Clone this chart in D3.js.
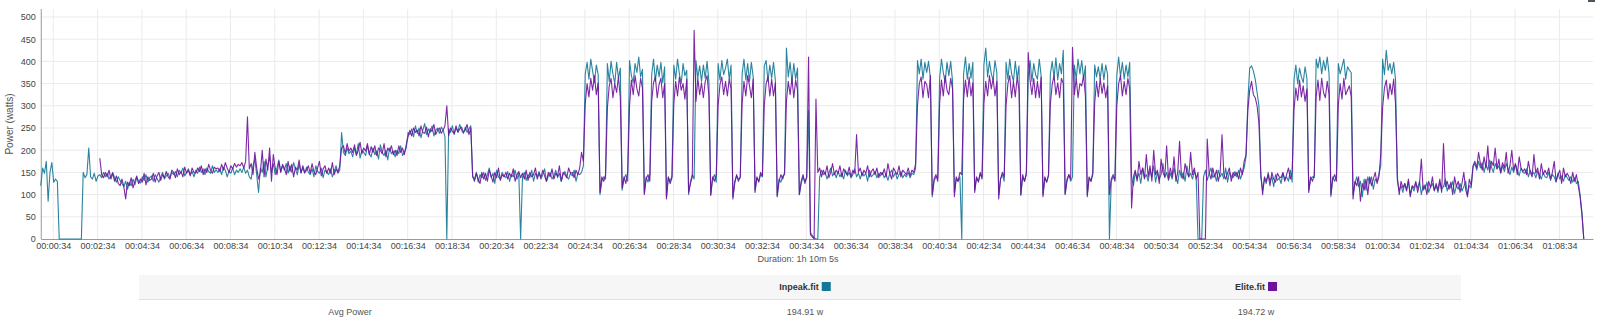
<!DOCTYPE html>
<html>
<head>
<meta charset="utf-8">
<script src="https://cdn.jsdelivr.net/npm/d3@7/dist/d3.min.js"></script>
<style>
  body { margin: 0; background: #fff; }
  svg text { font-family: "Liberation Sans", Arial, sans-serif; }
</style>
</head>
<body>
<div id="chart"></div>
<script>
// samples every 5 seconds, starting at 0s
var step = 5;

var inpeak = [
  120,160,148,175,85,150,172,128,135,130,0,0,
  0,0,0,0,0,0,0,0,0,0,0,150,
  138,145,205,140,135,148,130,142,145,138,150,140,
  148,135,142,150,138,128,140,132,125,118,130,112,
  128,120,135,122,138,130,126,140,132,145,128,138,
  142,130,145,136,128,140,150,135,142,148,138,150,
  145,152,140,155,148,160,142,150,158,145,152,140,
  155,148,162,150,158,145,160,152,148,165,150,156,
  150,158,145,162,155,140,152,148,160,145,155,150,
  158,150,162,148,155,140,135,165,180,145,105,160,
  150,175,140,165,185,150,170,145,160,178,152,165,
  155,170,148,165,150,172,158,145,168,150,160,148,
  162,150,145,158,140,165,152,148,160,138,155,150,
  145,158,140,152,165,148,155,240,195,188,205,192,
  198,185,205,190,215,182,200,195,188,210,192,185,
  205,190,198,180,212,195,188,200,178,205,192,198,
  185,200,192,210,188,195,205,240,235,248,230,255,
  238,250,228,245,260,235,248,240,255,232,245,250,
  238,252,245,230,0,248,240,255,235,250,242,258,
  245,238,252,240,248,255,140,135,150,128,145,138,
  150,132,145,160,138,148,125,155,140,135,150,142,
  138,152,130,145,140,155,135,148,0,140,150,132,
  145,138,155,130,148,140,152,135,145,158,130,142,
  150,135,142,155,138,148,130,145,152,140,135,148,
  142,155,130,148,145,150,165,372,398,360,405,378,
  352,392,370,100,130,140,135,395,355,400,372,350,
  398,362,385,110,135,145,130,402,368,352,395,375,
  410,365,382,105,140,128,145,370,405,355,392,365,
  398,352,388,95,138,130,142,392,360,405,372,350,
  395,368,380,100,130,145,135,402,362,390,355,392,
  362,400,355,100,135,145,128,395,358,402,370,385,
  405,360,392,95,130,142,135,138,372,405,358,395,
  355,398,365,110,138,130,145,140,390,402,355,392,
  362,398,358,98,135,128,142,145,430,365,398,352,
  395,360,385,100,125,140,130,138,290,15,8,3,
  0,0,140,155,145,150,135,148,160,142,150,138,
  152,140,148,135,155,142,150,138,145,158,140,148,
  135,150,142,148,130,155,140,145,152,138,148,142,
  150,138,145,132,148,155,140,150,135,145,152,138,
  145,140,150,138,148,145,160,402,372,405,360,398,
  375,400,362,95,130,140,138,362,405,375,352,398,
  368,400,355,105,135,130,140,0,372,410,360,395,
  362,398,110,138,130,145,140,392,430,365,400,372,
  358,402,375,100,135,145,130,398,360,405,372,355,
  400,362,390,98,140,130,145,365,402,355,395,370,
  360,405,368,100,138,128,142,372,400,362,408,358,
  395,372,425,102,135,145,130,140,392,360,405,372,
  402,360,390,100,138,130,145,392,365,388,360,395,
  358,392,370,0,130,140,135,368,410,365,398,360,
  392,365,398,140,120,150,135,148,125,160,138,145,
  130,155,140,165,128,150,135,145,170,138,150,132,
  148,135,160,142,125,155,138,150,130,165,140,148,
  135,152,140,0,0,0,140,155,132,148,160,138,
  145,130,155,140,148,135,160,128,150,142,138,152,
  140,155,135,148,160,185,310,385,390,378,360,330,
  300,140,110,135,125,150,130,140,118,145,132,138,
  125,148,135,140,130,155,128,358,392,350,385,365,
  352,388,362,110,135,140,138,405,385,410,372,402,
  380,410,372,95,140,130,145,395,372,388,405,360,
  388,380,375,100,125,140,118,130,95,135,110,140,
  125,140,112,135,130,145,165,405,370,425,380,395,
  372,398,360,130,110,120,105,125,112,130,100,118,
  108,125,115,130,100,120,112,128,105,118,125,110,
  120,105,128,112,118,135,108,122,115,130,102,120,
  112,125,108,118,130,100,120,115,162,170,155,175,
  160,172,150,168,155,178,162,150,170,158,165,148,
  165,152,170,158,145,162,150,168,155,142,160,150,
  148,158,140,155,145,150,138,152,145,135,150,140,
  138,150,132,145,140,128,148,135,142,130,145,138,
  132,140,128,138,125,130,100,60,0
];

var elite = [
  null,null,null,null,null,null,null,null,null,null,null,null,
  null,null,null,null,null,null,null,null,null,null,null,null,
  null,null,null,null,null,null,null,null,182,145,138,150,
  140,155,135,148,130,142,125,120,135,118,90,128,
  120,138,115,130,142,125,135,128,148,122,140,132,
  135,148,128,142,150,132,145,138,152,140,135,155,
  150,138,158,145,152,140,162,148,155,142,160,150,
  148,160,152,165,145,158,150,168,155,148,162,158,
  160,152,168,155,172,160,150,165,158,170,162,168,
  165,172,160,175,275,158,170,145,195,160,135,150,
  200,140,180,155,205,130,190,160,145,175,150,168,
  160,145,175,152,168,140,162,155,178,148,165,150,
  155,165,148,170,152,145,160,175,142,158,165,148,
  160,148,172,145,158,150,165,205,210,192,215,198,
  205,195,212,188,200,218,192,205,198,215,190,208,
  195,210,188,205,200,192,215,185,205,198,210,190,
  200,188,210,195,205,190,212,230,245,232,250,240,
  245,232,255,240,238,252,230,248,242,258,235,245,
  250,238,245,255,300,232,250,242,238,255,240,248,
  252,240,245,258,235,250,142,130,148,135,125,150,
  135,148,130,155,142,128,150,138,160,132,145,140,
  150,135,148,140,158,130,145,152,138,148,135,155,
  132,150,140,145,160,135,148,138,155,142,130,150,
  140,158,135,148,142,165,130,150,145,138,160,148,
  150,138,155,145,160,195,175,305,350,320,362,335,
  368,325,352,105,140,130,145,295,345,362,318,350,
  330,365,318,115,140,125,150,300,358,325,368,338,
  322,362,340,100,135,145,130,310,352,365,318,348,
  362,318,350,90,140,125,138,305,355,322,365,335,
  350,315,360,105,125,140,470,310,362,325,352,318,
  355,368,322,98,140,130,145,300,348,365,325,355,
  322,360,338,90,125,145,130,140,305,355,322,368,
  345,318,360,105,140,128,150,142,300,350,365,322,
  360,322,352,95,130,145,135,150,310,355,325,362,
  318,358,335,100,130,145,125,140,410,10,5,0,
  315,150,160,140,155,145,165,138,150,170,145,155,
  148,165,140,158,150,145,162,140,155,148,235,150,
  160,142,155,148,165,140,152,158,145,160,138,150,
  145,158,140,170,148,135,160,152,145,165,140,155,
  150,145,160,142,155,150,170,300,350,365,318,355,
  348,318,368,100,135,145,130,305,358,322,368,335,
  325,362,338,95,140,130,150,145,315,358,320,365,
  322,352,105,140,128,150,135,305,355,322,368,338,
  362,322,355,90,135,150,140,300,350,368,318,355,
  320,365,335,100,145,130,150,420,358,325,362,318,
  355,318,365,95,140,128,145,305,348,368,325,352,
  318,362,350,100,130,145,135,432,325,362,318,350,
  345,368,322,95,140,130,150,305,355,320,362,328,
  352,318,345,100,135,145,130,300,350,368,322,355,
  325,362,338,70,140,155,130,175,145,160,135,190,
  140,165,130,200,145,155,125,180,150,140,210,135,
  160,140,185,130,150,220,145,135,170,150,140,195,
  145,160,135,150,0,0,0,0,225,150,135,160,
  140,155,130,150,235,145,135,148,160,130,150,142,
  150,135,160,145,175,190,290,335,355,325,318,300,
  260,150,100,140,130,145,120,150,135,128,148,140,
  138,150,130,145,160,135,150,290,340,312,358,320,
  345,310,338,105,140,130,145,320,358,312,362,330,
  318,355,325,100,135,145,130,300,350,315,362,325,
  335,345,320,90,130,120,140,85,125,110,135,100,
  140,120,135,150,125,140,190,295,340,358,315,350,
  325,360,305,140,100,130,115,125,108,135,95,120,
  115,130,105,125,180,110,122,100,130,115,140,108,
  125,110,135,105,215,118,130,112,128,100,140,118,
  130,105,125,150,112,95,135,120,165,175,160,195,
  170,155,185,160,210,150,175,165,205,158,180,150,
  172,160,195,148,165,200,155,170,145,185,160,152,
  158,145,175,150,140,190,148,160,135,170,145,155,
  145,160,135,150,175,130,145,155,125,160,140,148,
  140,125,150,130,145,120,95,55,0
];

var xTickLabels = ["00:00:34","00:02:34","00:04:34","00:06:34","00:08:34","00:10:34","00:12:34",
  "00:14:34","00:16:34","00:18:34","00:20:34","00:22:34","00:24:34","00:26:34","00:28:34",
  "00:30:34","00:32:34","00:34:34","00:36:34","00:38:34","00:40:34","00:42:34","00:44:34",
  "00:46:34","00:48:34","00:50:34","00:52:34","00:54:34","00:56:34","00:58:34","01:00:34",
  "01:02:34","01:04:34","01:06:34","01:08:34"];
var yTicks = [0, 50, 100, 150, 200, 250, 300, 350, 400, 450, 500];

var seriesNames = ["Inpeak.fit", "Elite.fit"];
var seriesColors = ["#137795", "#6f129c"];
var avgPower = ["194.91 w", "194.72 w"];
var durationSec = 4205;

// Project Configuration
var width = 1600,
    height = 323;

function toSec(s) {
    var p = s.split(":");
    return (+p[0]) * 3600 + (+p[1]) * 60 + (+p[2]);
}

var svg = d3.select("#chart").append("svg")
    .attr("width", width)
    .attr("height", height);

var x = d3.scaleLinear()
    .domain([0, durationSec])
    .range([40.75, 1593]);

var y = d3.scaleLinear()
    .domain([0, 518])
    .range([239, 9]);

// grid
svg.append("g")
    .selectAll("line")
    .data(xTickLabels)
    .enter().append("line")
    .attr("x1", function(d) { return x(toSec(d)); })
    .attr("x2", function(d) { return x(toSec(d)); })
    .attr("y1", y.range()[1])
    .attr("y2", y.range()[0])
    .attr("stroke", "#ebebeb");

svg.append("g")
    .selectAll("line")
    .data(yTicks.slice(1))
    .enter().append("line")
    .attr("x1", x.range()[0])
    .attr("x2", x.range()[1])
    .attr("y1", function(d) { return y(d); })
    .attr("y2", function(d) { return y(d); })
    .attr("stroke", "#ebebeb");

// axes
var xAxis = svg.append("g")
    .attr("transform", "translate(0," + y(0) + ")")
    .call(d3.axisBottom(x)
        .tickValues(xTickLabels.map(toSec))
        .tickFormat(function(d, i) { return xTickLabels[i]; })
        .tickSize(0)
        .tickPadding(4));

var yAxis = svg.append("g")
    .attr("transform", "translate(" + x.range()[0] + ",0)")
    .call(d3.axisLeft(y)
        .tickValues(yTicks)
        .tickSize(0)
        .tickPadding(5));

[xAxis, yAxis].forEach(function(g) {
    g.select(".domain").attr("stroke", "#9a9a9a");
    g.selectAll("text")
        .attr("fill", "#444")
        .style("font-size", "9px");
});
yAxis.select(".domain").attr("d", "M0.5," + y(0) + "V" + y.range()[1]);

svg.append("text")
    .attr("transform", "translate(13," + ((y.range()[0] + y.range()[1]) / 2) + ") rotate(-90)")
    .attr("text-anchor", "middle")
    .attr("fill", "#555")
    .style("font-size", "10px")
    .text("Power (watts)");

svg.append("text")
    .attr("x", 798)
    .attr("y", 262)
    .attr("text-anchor", "middle")
    .attr("fill", "#555")
    .style("font-size", "9px")
    .text("Duration: 1h 10m 5s");

// DATA
var line = d3.line()
    .defined(function(d) { return d != null; })
    .x(function(d, i) { return x(i * step); })
    .y(function(d) { return y(d); });

[inpeak, elite].forEach(function(values, k) {
    svg.append("path")
        .datum(values)
        .attr("fill", "none")
        .attr("stroke", seriesColors[k])
        .attr("stroke-width", 1.1)
        .attr("stroke-opacity", 0.9)
        .attr("stroke-linejoin", "round")
        .attr("d", line);
});

// little corner mark top right
svg.append("rect")
    .attr("x", 1588).attr("y", 0)
    .attr("width", 7).attr("height", 2)
    .attr("fill", "#4a5560");

// stats table
var table = svg.append("g");
table.append("rect")
    .attr("x", 139).attr("y", 275)
    .attr("width", 1322).attr("height", 24)
    .attr("fill", "#f6f6f6");
table.append("line")
    .attr("x1", 139).attr("x2", 1461)
    .attr("y1", 299.5).attr("y2", 299.5)
    .attr("stroke", "#e2e2e2");

var colCenters = [805, 1256];

seriesNames.forEach(function(name, k) {
    var t = table.append("text")
        .attr("y", 290)
        .attr("fill", "#333")
        .attr("font-weight", "bold")
        .style("font-size", "9px")
        .text(name);
    var w = t.node().getComputedTextLength();
    var total = w + 3 + 9;
    var left = colCenters[k] - total / 2;
    t.attr("x", left);
    table.append("rect")
        .attr("x", left + w + 3)
        .attr("y", 282)
        .attr("width", 9)
        .attr("height", 9)
        .attr("fill", seriesColors[k]);

    table.append("text")
        .attr("x", colCenters[k])
        .attr("y", 315)
        .attr("text-anchor", "middle")
        .attr("fill", "#555")
        .style("font-size", "9px")
        .text(avgPower[k]);
});

table.append("text")
    .attr("x", 350)
    .attr("y", 315)
    .attr("text-anchor", "middle")
    .attr("fill", "#555")
    .style("font-size", "9px")
    .text("Avg Power");
</script>
</body>
</html>
